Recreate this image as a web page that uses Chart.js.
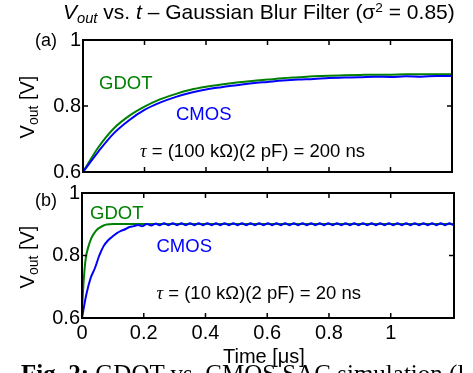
<!DOCTYPE html>
<html lang="en">
<head>
  <meta charset="UTF-8" />
  <title>Vout vs. t – Gaussian Blur Filter</title>
  <script src="https://cdn.jsdelivr.net/npm/chart.js"></script>
  <style>
    body {
      margin: 0;
      background: #fff;
    }

    .fig {
      position: relative;
      width: 473px;
      height: 373px;
      overflow: hidden;
      font-family: Arial, "Liberation Sans", sans-serif;
      color: #000;
    }

    .fig canvas {
      position: absolute;
      left: 0;
      top: 0;
    }

    .txt {
      position: absolute;
      white-space: nowrap;
      line-height: 1;
    }

    .note { font-size: 18.5px; }
    .green { color: #008000; }
    .blue { color: #0000ff; }
    .tau { font-family: "Liberation Serif", "Times New Roman", serif; font-style: italic; }

    .sub {
      position: relative;
      top: 0.3em;
      font-size: 0.7em;
    }

    .sup {
      position: relative;
      top: -0.5em;
      font-size: 0.65em;
    }

    .ylab {
      font-size: 20px;
      transform: translate(-50%, -50%) rotate(-90deg);
    }

    .caption {
      font-family: "Liberation Serif", "Times New Roman", serif;
      font-size: 25px;
    }
  </style>
</head>
<body>
  <div class="fig">
    <canvas id="chartA" width="473" height="373"></canvas>
    <canvas id="chartB" width="473" height="373"></canvas>

    <div class="txt" style="left:63px; top:0.5px; font-size:21px;">
      <i>V</i><span class="sub"><i>out</i></span> vs. <i>t</i> – Gaussian Blur Filter (σ<span class="sup">2</span> = 0.85)
    </div>

    <div class="txt" style="left:35px; top:31px; font-size:18px;">(a)</div>
    <div class="txt" style="left:35px; top:191px; font-size:18px;">(b)</div>

    <div class="txt ylab" style="left:26.6px; top:106.5px;">V<span class="sub">out</span> [V]</div>
    <div class="txt ylab" style="left:26.6px; top:256.5px;">V<span class="sub">out</span> [V]</div>

    <div class="txt note green" style="left:99px; top:74.3px;">GDOT</div>
    <div class="txt note blue" style="left:176px; top:105px;">CMOS</div>
    <div class="txt note" style="left:140px; top:142px;"><span class="tau">τ</span> = (100 kΩ)(2 pF) = 200 ns</div>

    <div class="txt note green" style="left:90px; top:203.6px;">GDOT</div>
    <div class="txt note blue" style="left:156.5px; top:237px;">CMOS</div>
    <div class="txt note" style="left:156.5px; top:284.3px;"><span class="tau">τ</span> = (10 kΩ)(2 pF) = 20 ns</div>

    <div class="txt" style="left:223px; top:345.5px; font-size:20px;">Time [μs]</div>

    <div class="txt caption" style="left:21px; top:361px;"><b>Fig. 2:</b> GDOT vs. CMOS SAC simulation (l</div>
  </div>

  <script>
    // axis ticks
    const xTicks = [0, 0.2, 0.4, 0.6, 0.8, 1];
    const yTicks = [0.6, 0.8, 1];

    // (a) tau = 200 ns, time in us
    const tA = [0, 0.05, 0.1, 0.15, 0.2, 0.25, 0.3, 0.35, 0.4, 0.45, 0.5, 0.55, 0.6,
                0.65, 0.7, 0.75, 0.8, 0.85, 0.9, 0.95, 1.0, 1.05, 1.1, 1.15, 1.2];
    const gdotA = [0.600, 0.675, 0.732, 0.770, 0.798, 0.820, 0.836, 0.849, 0.858, 0.865, 0.871, 0.876, 0.880,
                   0.884, 0.887, 0.890, 0.892, 0.893, 0.894, 0.895, 0.895, 0.896, 0.896, 0.896, 0.896];
    const cmosA = [0.600, 0.662, 0.717, 0.757, 0.788, 0.810, 0.827, 0.840, 0.850, 0.857, 0.863, 0.869, 0.873,
                   0.877, 0.880, 0.882, 0.885, 0.886, 0.887, 0.889, 0.888, 0.890, 0.889, 0.891, 0.891];

    // (b) tau = 20 ns
    const tGB = [0, 0.003, 0.007, 0.012, 0.02, 0.03, 0.04, 0.05, 0.06, 0.07, 0.08, 0.1, 1.21];
    const gdotB = [0.620, 0.680, 0.740, 0.790, 0.826, 0.855, 0.872, 0.884, 0.891, 0.896, 0.899, 0.901, 0.901];

    const tB = [0, 0.014, 0.028, 0.042, 0.056, 0.07, 0.084, 0.098, 0.112, 0.126, 0.14, 0.154, 0.168, 0.182,
                0.196, 0.21, 0.224, 0.238, 0.252, 0.266, 0.28, 0.294, 0.308, 0.322, 0.336, 0.35, 0.364, 0.378,
                0.392, 0.406, 0.42, 0.434, 0.448, 0.462, 0.476, 0.49, 0.504, 0.518, 0.532, 0.546, 0.56, 0.574,
                0.588, 0.602, 0.616, 0.63, 0.644, 0.658, 0.672, 0.686, 0.7, 0.714, 0.728, 0.742, 0.756, 0.77,
                0.784, 0.798, 0.812, 0.826, 0.84, 0.854, 0.868, 0.882, 0.896, 0.91, 0.924, 0.938, 0.952, 0.966,
                0.98, 0.994, 1.008, 1.022, 1.036, 1.05, 1.064, 1.078, 1.092, 1.106, 1.12, 1.134, 1.148, 1.162,
                1.176, 1.19, 1.204, 1.218];
    const cmosB = [0.600, 0.675, 0.728, 0.760, 0.800, 0.830, 0.848, 0.860, 0.871, 0.879, 0.884, 0.891, 0.894, 0.898,
                   0.894, 0.901, 0.896, 0.902, 0.897, 0.903, 0.897, 0.903, 0.897, 0.903, 0.897, 0.903, 0.897, 0.903,
                   0.897, 0.903, 0.897, 0.903, 0.897, 0.903, 0.897, 0.903, 0.897, 0.903, 0.897, 0.903, 0.897, 0.903,
                   0.897, 0.903, 0.897, 0.903, 0.897, 0.903, 0.897, 0.903, 0.897, 0.903, 0.897, 0.903, 0.897, 0.903,
                   0.897, 0.903, 0.897, 0.903, 0.897, 0.903, 0.897, 0.903, 0.897, 0.903, 0.897, 0.903, 0.897, 0.903,
                   0.897, 0.903, 0.897, 0.903, 0.897, 0.903, 0.897, 0.903, 0.897, 0.903, 0.897, 0.903, 0.897, 0.903,
                   0.897, 0.903, 0.897, 0.903];

    const FONT = 'Arial, "Liberation Sans", sans-serif';

    const pts = (xs, ys) => xs.map((x, i) => ({ x: x, y: ys[i] }));

    // matlab style box with inward ticks
    const boxPlugin = {
      id: 'box',
      afterDatasetsDraw(chart) {
        const { ctx, chartArea: a, scales: { x, y } } = chart;
        ctx.save();
        ctx.strokeStyle = '#000';
        ctx.lineWidth = 1.5;
        ctx.beginPath();
        xTicks.forEach(v => {
          const px = x.getPixelForValue(v);
          ctx.moveTo(px, a.bottom); ctx.lineTo(px, a.bottom - 5);
          ctx.moveTo(px, a.top); ctx.lineTo(px, a.top + 5);
        });
        yTicks.forEach(v => {
          const py = y.getPixelForValue(v);
          ctx.moveTo(a.left, py); ctx.lineTo(a.left + 5, py);
          ctx.moveTo(a.right, py); ctx.lineTo(a.right - 5, py);
        });
        ctx.stroke();
        ctx.lineWidth = 2;
        ctx.strokeRect(a.left, a.top, a.right - a.left, a.bottom - a.top);
        ctx.restore();
      }
    };

    function panelOptions(pad, yWidth, xHeight, xMax, showX) {
      return {
        responsive: false,
        animation: false,
        layout: { padding: pad },
        plugins: { legend: { display: false }, tooltip: { enabled: false } },
        scales: {
          x: {
            type: 'linear',
            min: 0,
            max: xMax,
            afterBuildTicks: s => { s.ticks = xTicks.map(v => ({ value: v })); },
            afterFit: s => { s.height = xHeight; },
            grid: { display: false, drawTicks: false },
            border: { display: false },
            ticks: {
              display: showX,
              padding: 3,
              color: '#000',
              font: { family: FONT, size: 20 },
              maxRotation: 0,
              callback: v => String(v)
            }
          },
          y: {
            type: 'linear',
            min: 0.6,
            max: 1,
            afterBuildTicks: s => { s.ticks = yTicks.map(v => ({ value: v })); },
            afterFit: s => { s.width = yWidth; },
            grid: { display: false, drawTicks: false },
            border: { display: false },
            ticks: {
              padding: 2,
              color: '#000',
              font: { family: FONT, size: 20 },
              callback: v => String(v)
            }
          }
        }
      };
    }

    const lineStyle = { borderWidth: 2, pointRadius: 0, fill: false };

    new Chart(document.getElementById('chartA'), {
      type: 'line',
      data: {
        datasets: [
          { ...lineStyle, label: 'CMOS', data: pts(tA, cmosA), borderColor: '#0000ff', cubicInterpolationMode: 'monotone' },
          { ...lineStyle, label: 'GDOT', data: pts(tA, gdotA), borderColor: '#008000', cubicInterpolationMode: 'monotone' }
        ]
      },
      options: panelOptions({ left: 0, right: 21, top: 40, bottom: 201 }, 83, 0, 1.2, false),
      plugins: [boxPlugin]
    });

    new Chart(document.getElementById('chartB'), {
      type: 'line',
      data: {
        datasets: [
          { ...lineStyle, label: 'CMOS', data: pts(tB, cmosB), borderColor: '#0000ff', tension: 0.4 },
          { ...lineStyle, label: 'GDOT', data: pts(tGB, gdotB), borderColor: '#008000', cubicInterpolationMode: 'monotone' }
        ]
      },
      options: panelOptions({ left: 0, right: 19, top: 193, bottom: 25 }, 82, 30, 1.205, true),
      plugins: [boxPlugin]
    });
  </script>
</body>
</html>
